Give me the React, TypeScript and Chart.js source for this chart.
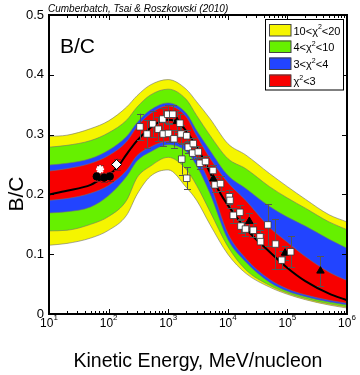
import React, { useEffect, useRef } from 'react';
import { Chart, registerables } from 'chart.js';

Chart.register(...registerables);

// ---------- data ----------
const bandE = [10, 20, 50, 100, 200, 300, 500, 1000, 2000, 3000, 5000, 10000, 20000, 50000, 100000, 200000, 500000, 1000000];
const yellowHi = [0.297, 0.299, 0.31, 0.323, 0.346, 0.365, 0.383, 0.392, 0.376, 0.355, 0.327, 0.285, 0.266, 0.235, 0.213, 0.192, 0.166, 0.154];
const greenHi = [0.279, 0.282, 0.29, 0.303, 0.324, 0.346, 0.366, 0.376, 0.359, 0.332, 0.299, 0.26, 0.243, 0.213, 0.194, 0.177, 0.154, 0.141];
const blueHi = [0.249, 0.252, 0.26, 0.274, 0.297, 0.32, 0.341, 0.353, 0.336, 0.307, 0.274, 0.232, 0.21, 0.18, 0.162, 0.147, 0.125, 0.11];
const redHi = [0.239, 0.243, 0.252, 0.265, 0.288, 0.313, 0.335, 0.348, 0.33, 0.298, 0.261, 0.22, 0.19, 0.145, 0.12, 0.096, 0.07, 0.056];
const redLo = [0.19, 0.193, 0.202, 0.215, 0.24, 0.265, 0.279, 0.289, 0.28, 0.262, 0.218, 0.135, 0.093, 0.058, 0.042, 0.032, 0.023, 0.018];
const blueLo = [0.169, 0.171, 0.179, 0.198, 0.23, 0.256, 0.271, 0.283, 0.272, 0.248, 0.202, 0.125, 0.087, 0.053, 0.038, 0.029, 0.02, 0.015];
const greenLo = [0.139, 0.14, 0.15, 0.163, 0.19, 0.228, 0.247, 0.262, 0.242, 0.215, 0.172, 0.113, 0.074, 0.048, 0.035, 0.026, 0.017, 0.012];
const yellowLo = [0.115, 0.118, 0.127, 0.14, 0.165, 0.2, 0.23, 0.241, 0.212, 0.19, 0.15, 0.1, 0.068, 0.045, 0.033, 0.024, 0.015, 0.01];

const modelE = [10, 20, 50, 70, 100, 150, 200, 300, 500, 700, 1000, 1500, 2000, 3000, 5000, 7000, 10000, 20000, 50000, 100000, 200000, 500000, 1000000];
const modelBC = [0.2, 0.206, 0.216, 0.224, 0.232, 0.249, 0.267, 0.29, 0.311, 0.321, 0.325, 0.32, 0.306, 0.28, 0.237, 0.207, 0.182, 0.143, 0.104, 0.077, 0.055, 0.034, 0.023];

const squareE = [336, 441, 550, 682, 809, 828, 980, 1012, 1191, 1251, 1577, 1640, 1686, 2044, 2044, 2174, 2636, 2576, 3199, 3417, 4230, 5650, 6100, 7550, 10600, 10900, 12370, 16000, 16600, 19800, 26800, 34700, 35500, 46900, 63100, 80200, 113500];
const squareBC = [0.313, 0.301, 0.318, 0.309, 0.326, 0.301, 0.334, 0.302, 0.334, 0.293, 0.319, 0.301, 0.259, 0.298, 0.227, 0.279, 0.285, 0.269, 0.271, 0.252, 0.255, 0.24, 0.216, 0.218, 0.196, 0.19, 0.165, 0.17, 0.147, 0.142, 0.14, 0.129, 0.121, 0.149, 0.117, 0.09, 0.104];
const squareErr = [0.022, 0.023, 0.022, 0.02, 0.018, 0.02, 0.015, 0.015, 0.015, 0.015, 0.015, 0.015, 0.026, 0.01, 0.018, 0.01, 0.01, 0.01, 0.01, 0.01, 0.01, 0.01, 0.012, 0.012, 0.012, 0.012, 0.012, 0.012, 0.012, 0.012, 0.012, 0.012, 0.012, 0.035, 0.042, 0.015, 0.026];

const triangleE = [1406, 5710, 22960, 91200, 359000];
const triangleBC = [0.322, 0.226, 0.155, 0.102, 0.072];
const triangleErr = [0.018, 0.012, 0.014, 0.012, 0.025];

const circleE = [63, 84, 105];
const circleBC = [0.23, 0.228, 0.23];
const circleErr = [0.008, 0.008, 0.008];

const starE = [72];
const starBC = [0.242];
const starErr = [0.008];

const diamondE = [136];
const diamondBC = [0.25];
const diamondErr = [0.01];

const xTickExponents = [1, 2, 3, 4, 5, 6];
const xMinorMultipliers = [2, 3, 4, 5, 6, 7, 8, 9];
const yTickValues = [0, 0.1, 0.2, 0.3, 0.4, 0.5];
const yTickLabels = ['0', '0.1', '0.2', '0.3', '0.4', '0.5'];

const legendParts = [
  ['10<χ', '2', '<20'],
  ['4<χ', '2', '<10'],
  ['3<χ', '2', '<4'],
  ['χ', '2', '<3'],
];

const YELLOW = '#f5f500';
const GREEN = '#66f000';
const BLUE = '#2244ff';
const RED = '#f80000';
const legendColors = [YELLOW, GREEN, BLUE, RED];

const citation = 'Cumberbatch, Tsai & Roszkowski (2010)';
const xTitle = 'Kinetic Energy, MeV/nucleon';
const yTitle = 'B/C';
const panelLabel = 'B/C';

const FONT = '"Liberation Sans", Arial, Helvetica, sans-serif';

const pts = (es: number[], vs: number[]) => es.map((e, i) => ({ x: e, y: vs[i] }));

const errorSets = [
  { e: squareE, v: squareBC, err: squareErr, color: '#555555' },
  { e: triangleE, v: triangleBC, err: triangleErr, color: '#555555' },
  { e: circleE, v: circleBC, err: circleErr, color: '#8a1c1c' },
  { e: starE, v: starBC, err: starErr, color: '#8a1c1c' },
  { e: diamondE, v: diamondBC, err: diamondErr, color: '#8a1c1c' },
];

const decor = {
  id: 'decor',
  beforeDatasetDraw(chart: any, args: any) {
    if (args.index !== 4) return;
    const { ctx, scales } = chart;
    const xs = scales.x;
    const ys = scales.y;
    ctx.save();
    ctx.lineWidth = 1;
    for (const set of errorSets) {
      ctx.strokeStyle = set.color;
      ctx.beginPath();
      set.e.forEach((e: number, i: number) => {
        const px = Math.round(xs.getPixelForValue(e)) + 0.5;
        const y1 = ys.getPixelForValue(set.v[i] - set.err[i]);
        const y2 = ys.getPixelForValue(set.v[i] + set.err[i]);
        ctx.moveTo(px, y1);
        ctx.lineTo(px, y2);
        ctx.moveTo(px - 3.5, Math.round(y1) + 0.5);
        ctx.lineTo(px + 3.5, Math.round(y1) + 0.5);
        ctx.moveTo(px - 3.5, Math.round(y2) + 0.5);
        ctx.lineTo(px + 3.5, Math.round(y2) + 0.5);
      });
      ctx.stroke();
    }
    ctx.restore();
  },
  afterDraw(chart: any) {
    const { ctx, chartArea: a, scales } = chart;
    const xs = scales.x;
    const ys = scales.y;
    ctx.save();

    // ticks (inward)
    ctx.strokeStyle = '#000';
    ctx.lineWidth = 1;
    ctx.beginPath();
    xTickExponents.forEach((d) => {
      const px = Math.round(xs.getPixelForValue(Math.pow(10, d))) + 0.5;
      ctx.moveTo(px, a.bottom);
      ctx.lineTo(px, a.bottom - 5);
      ctx.moveTo(px, a.top);
      ctx.lineTo(px, a.top + 5);
      if (d < 6) {
        xMinorMultipliers.forEach((m) => {
          const mx = Math.round(xs.getPixelForValue(m * Math.pow(10, d))) + 0.5;
          ctx.moveTo(mx, a.bottom);
          ctx.lineTo(mx, a.bottom - 3);
          ctx.moveTo(mx, a.top);
          ctx.lineTo(mx, a.top + 3);
        });
      }
    });
    yTickValues.forEach((v) => {
      const py = Math.round(ys.getPixelForValue(v)) + 0.5;
      ctx.moveTo(a.left, py);
      ctx.lineTo(a.left + 5, py);
      ctx.moveTo(a.right, py);
      ctx.lineTo(a.right - 5, py);
    });
    ctx.stroke();

    // frame
    ctx.lineWidth = 2;
    ctx.strokeRect(a.left, a.top, a.right - a.left, a.bottom - a.top);

    // tick labels
    ctx.fillStyle = '#000';
    ctx.font = `13px ${FONT}`;
    ctx.textAlign = 'right';
    ctx.textBaseline = 'middle';
    yTickValues.forEach((v, i) => {
      ctx.fillText(yTickLabels[i], 44, ys.getPixelForValue(v));
    });
    ctx.textBaseline = 'alphabetic';
    xTickExponents.forEach((d) => {
      const px = xs.getPixelForValue(Math.pow(10, d));
      ctx.font = `12px ${FONT}`;
      const wb = ctx.measureText('10').width;
      ctx.font = `8px ${FONT}`;
      const we = ctx.measureText(String(d)).width;
      const left = px - (wb + we) / 2;
      ctx.textAlign = 'left';
      ctx.font = `12px ${FONT}`;
      ctx.fillText('10', left, 327);
      ctx.font = `8px ${FONT}`;
      ctx.fillText(String(d), left + wb, 320);
    });

    // titles
    ctx.font = `19.5px ${FONT}`;
    ctx.textAlign = 'center';
    ctx.fillText(xTitle, 198, 367);
    ctx.save();
    ctx.translate(23, 194);
    ctx.rotate(-Math.PI / 2);
    ctx.font = `21px ${FONT}`;
    ctx.fillText(yTitle, 0, 0);
    ctx.restore();
    ctx.font = `21px ${FONT}`;
    ctx.textAlign = 'left';
    ctx.fillText(panelLabel, 60, 53);
    ctx.font = `italic 10px ${FONT}`;
    ctx.fillText(citation, 48, 12);

    // legend
    ctx.fillStyle = '#fff';
    ctx.fillRect(265, 19.5, 78, 70.5);
    ctx.strokeStyle = '#000';
    ctx.lineWidth = 1;
    ctx.strokeRect(265.5, 19.5, 78, 70.5);
    const rowY = [24, 40.5, 57.5, 74.5];
    legendParts.forEach((parts, i) => {
      const y0 = rowY[i];
      ctx.fillStyle = legendColors[i];
      ctx.fillRect(269.5, y0, 21.5, 12);
      ctx.strokeStyle = '#444';
      ctx.strokeRect(269.5, y0 + 0.5, 21.5, 11.5);
      ctx.fillStyle = '#000';
      let tx = 293.5;
      ctx.font = `11px ${FONT}`;
      ctx.fillText(parts[0], tx, y0 + 10.5);
      tx += ctx.measureText(parts[0]).width;
      ctx.font = `7px ${FONT}`;
      ctx.fillText(parts[1], tx, y0 + 5);
      tx += ctx.measureText(parts[1]).width;
      ctx.font = `11px ${FONT}`;
      ctx.fillText(parts[2], tx, y0 + 10.5);
    });

    ctx.restore();
  },
};

export default function App() {
  const ref = useRef<HTMLCanvasElement>(null);
  useEffect(() => {
    const canvas = ref.current;
    if (!canvas) return;
    const edge = '#707070';
    const bandDs = (hi: number[], lo: number[], color: string) => [
      {
        data: pts(bandE, hi),
        borderColor: edge,
        borderWidth: 0.6,
        backgroundColor: color,
        fill: '+1',
        pointRadius: 0,
        cubicInterpolationMode: 'monotone',
      },
      {
        data: pts(bandE, lo),
        borderColor: edge,
        borderWidth: 0.6,
        fill: false,
        pointRadius: 0,
        cubicInterpolationMode: 'monotone',
      },
    ];
    const chart = new Chart(canvas, {
      type: 'line',
      data: {
        datasets: [
          {
            data: pts(squareE, squareBC),
            showLine: false,
            pointStyle: 'rect',
            pointRadius: 4.6,
            pointBackgroundColor: '#ffffff',
            pointBorderColor: '#333',
            pointBorderWidth: 0.8,
          },
          {
            data: pts(triangleE, triangleBC),
            showLine: false,
            pointStyle: 'triangle',
            pointRadius: 4.3,
            pointBackgroundColor: '#000',
            pointBorderColor: '#000',
            pointBorderWidth: 1,
          },
          {
            data: pts(circleE, circleBC),
            showLine: false,
            pointStyle: 'circle',
            pointRadius: 3.6,
            pointBackgroundColor: '#000',
            pointBorderColor: '#000',
            pointBorderWidth: 1,
          },
          {
            data: pts(starE, starBC),
            showLine: false,
            pointStyle: 'star',
            pointRadius: 4,
            pointBackgroundColor: '#fff',
            pointBorderColor: '#fff',
            pointBorderWidth: 2,
          },
          {
            data: pts(diamondE, diamondBC),
            showLine: false,
            pointStyle: 'rectRot',
            pointRadius: 5,
            pointBackgroundColor: '#fff',
            pointBorderColor: '#000',
            pointBorderWidth: 1,
          },
          {
            data: pts(modelE, modelBC),
            borderColor: '#000',
            borderWidth: 2,
            pointRadius: 0,
            fill: false,
            cubicInterpolationMode: 'monotone',
          },
          ...bandDs(redHi, redLo, RED),
          ...bandDs(blueHi, blueLo, BLUE),
          ...bandDs(greenHi, greenLo, GREEN),
          ...bandDs(yellowHi, yellowLo, YELLOW),
        ] as any,
      },
      options: {
        responsive: false,
        animation: false,
        events: [],
        layout: { padding: { left: 0, top: 15, right: 13, bottom: 0 } },
        plugins: {
          legend: { display: false },
          tooltip: { enabled: false },
          filler: { drawTime: 'beforeDatasetsDraw' },
        } as any,
        scales: {
          x: {
            type: 'logarithmic',
            min: 10,
            max: 1000000,
            ticks: { display: false },
            grid: { display: false },
            border: { display: false },
            afterFit: (s: any) => {
              s.height = 61;
            },
          },
          y: {
            type: 'linear',
            min: 0,
            max: 0.5,
            ticks: { display: false },
            grid: { display: false },
            border: { display: false },
            afterFit: (s: any) => {
              s.width = 49;
            },
          },
        } as any,
      },
      plugins: [decor],
    });
    return () => chart.destroy();
  }, []);
  return (
    <div style={{ position: 'absolute', left: 0, top: 0, width: 360, height: 375, background: '#fff' }}>
      <canvas ref={ref} width={360} height={375} style={{ display: 'block' }} />
    </div>
  );
}
